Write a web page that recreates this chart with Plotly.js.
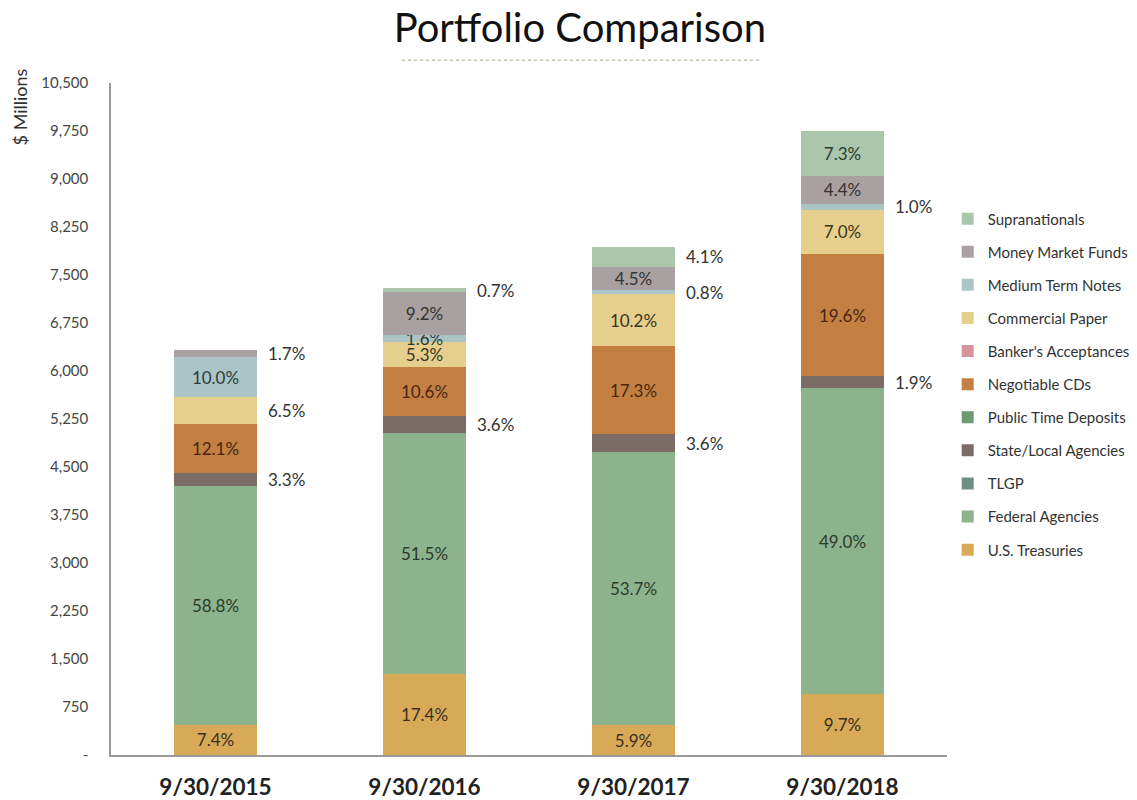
<!DOCTYPE html>
<html>
<head>
<meta charset="utf-8">
<script src="https://cdn.plot.ly/plotly-3.0.1.min.js"></script>
<style>
  html, body { margin: 0; padding: 0; background: #fff; }
  #plotArea { width: 1137px; height: 800px; }
</style>
</head>
<body>
<div id="plotArea"></div>
<script>
// dates on the x axis
var dates = ["9/30/2015", "9/30/2016", "9/30/2017", "9/30/2018"];

// $ millions per holding (bottom to top of the stack)
var usTreasuries    = [470, 1270, 468, 947];
var federalAgencies = [3730, 3758, 4262, 4785];
var tlgp            = [0, 0, 0, 0];
var stateLocal      = [209, 263, 286, 186];
var publicTime      = [0, 0, 0, 0];
var negotiableCDs   = [768, 773, 1373, 1914];
var bankersAccept   = [0, 0, 0, 0];
var commercialPaper = [412, 387, 810, 684];
var mediumTerm      = [634, 117, 63, 98];
var moneyMarket     = [108, 671, 357, 430];
var supranationals  = [0, 51, 325, 713];

// share labels printed on the chart ("" = none)
var pctUST   = ["7.4%", "17.4%", "5.9%", "9.7%"];
var pctFA    = ["58.8%", "51.5%", "53.7%", "49.0%"];
var pctSLA   = ["3.3%", "3.6%", "3.6%", "1.9%"];
var pctNCD   = ["12.1%", "10.6%", "17.3%", "19.6%"];
var pctCP    = ["6.5%", "5.3%", "10.2%", "7.0%"];
var pctMTN   = ["10.0%", "1.6%", "0.8%", "1.0%"];
var pctMMF   = ["1.7%", "9.2%", "4.5%", "4.4%"];
var pctSupra = ["", "0.7%", "4.1%", "7.3%"];
var blank    = ["", "", "", ""];

// which labels sit beside the bar instead of inside it
var outSLA   = [true, true, true, true];
var outCP    = [true, false, false, false];
var outMTN   = [false, false, true, true];
var outMMF   = [true, false, false, false];
var outSupra = [false, true, true, false];

// y axis ticks
var yTickVals = [0, 750, 1500, 2250, 3000, 3750, 4500, 5250, 6000, 6750, 7500, 8250, 9000, 9750, 10500];
var yTickText = ["-", "750", "1,500", "2,250", "3,000", "3,750", "4,500", "5,250", "6,000", "6,750", "7,500", "8,250", "9,000", "9,750", "10,500"];

var series = [
  {name: "U.S. Treasuries",       y: usTreasuries,    pct: pctUST,   out: null,     color: "#d8aa58", tc: "#3a3020"},
  {name: "Federal Agencies",      y: federalAgencies, pct: pctFA,    out: null,     color: "#8cb38b", tc: "#2f3a2f"},
  {name: "TLGP",                  y: tlgp,            pct: blank,    out: null,     color: "#6f8f82", tc: "#333"},
  {name: "State/Local Agencies",  y: stateLocal,      pct: pctSLA,   out: outSLA,   color: "#7b6d66", tc: "#333"},
  {name: "Public Time Deposits",  y: publicTime,      pct: blank,    out: null,     color: "#6e9a72", tc: "#333"},
  {name: "Negotiable CDs",        y: negotiableCDs,   pct: pctNCD,   out: null,     color: "#c48042", tc: "#4a2512"},
  {name: "Banker's Acceptances",  y: bankersAccept,   pct: blank,    out: null,     color: "#d6939a", tc: "#333"},
  {name: "Commercial Paper",      y: commercialPaper, pct: pctCP,    out: outCP,    color: "#e6cf8c", tc: "#3a3520"},
  {name: "Medium Term Notes",     y: mediumTerm,      pct: pctMTN,   out: outMTN,   color: "#abc5c6", tc: "#2f3a3a"},
  {name: "Money Market Funds",    y: moneyMarket,     pct: pctMMF,   out: outMMF,   color: "#a9a1a1", tc: "#333"},
  {name: "Supranationals",        y: supranationals,  pct: pctSupra, out: outSupra, color: "#abc7ab", tc: "#2f3a2f"}
];

var traces = [];
var annotations = [];
var base = [0, 0, 0, 0];

series.forEach(function (s, k) {
  var inside = s.pct.map(function (t, i) {
    return (s.out && s.out[i]) ? "" : t;
  });
  traces.push({
    type: "bar",
    name: s.name,
    x: dates,
    y: s.y,
    text: inside,
    textposition: "inside",
    insidetextanchor: "middle",
    textangle: 0,
    constraintext: "none",
    insidetextfont: {family: "Lato, sans-serif", size: 17, color: s.tc},
    marker: {color: s.color, line: {width: 0}},
    width: 0.4,
    legendgroup: "g" + k,
    legendrank: 100 - k,   // top of stack first in the legend
    hoverinfo: "name+y"
  });
  // labels to the right of the bar
  if (s.out) {
    s.out.forEach(function (o, i) {
      if (o && s.pct[i]) {
        annotations.push({
          x: dates[i], y: base[i] + s.y[i] / 2,
          xref: "x", yref: "y",
          text: s.pct[i],
          showarrow: false,
          xanchor: "left", yanchor: "middle",
          xshift: 50,
          font: {family: "Lato, sans-serif", size: 17, color: "#333"}
        });
      }
    });
  }
  base = base.map(function (b, i) { return b + s.y[i]; });
});

annotations.push({
  x: -0.109, y: 0.965,
  xref: "paper", yref: "paper",
  text: "$ Millions",
  textangle: -90,
  showarrow: false,
  xanchor: "center", yanchor: "middle",
  font: {family: "Lato, sans-serif", size: 18, color: "#333"}
});

var layout = {
  width: 1137,
  height: 800,
  margin: {l: 111, r: 190, t: 83, b: 45},
  paper_bgcolor: "#fff",
  plot_bgcolor: "#fff",
  barmode: "stack",
  font: {family: "Lato, sans-serif", color: "#333"},
  title: {
    text: "Portfolio Comparison",
    x: 0.51, xanchor: "center",
    y: 0.965, yanchor: "middle",
    font: {family: "Lato, sans-serif", size: 40, color: "#111"}
  },
  xaxis: {
    type: "category",
    range: [-0.5, 3.5],
    showline: true, linecolor: "#999", linewidth: 1.5,
    showgrid: false, zeroline: false,
    ticks: "outside", ticklen: 11, tickcolor: "rgba(0,0,0,0)",
    tickfont: {family: "Lato, sans-serif", size: 22.5, color: "#222", weight: "bold"}
  },
  yaxis: {
    range: [0, 10500],
    tickvals: yTickVals,
    ticktext: yTickText,
    showline: true, linecolor: "#999", linewidth: 1.5,
    showgrid: false, zeroline: false,
    ticks: "outside", ticklen: 18, tickcolor: "rgba(0,0,0,0)",
    tickfont: {family: "Lato, sans-serif", size: 15, color: "#444"}
  },
  legend: {
    xref: "container", yref: "container",
    x: 0.8335, y: 0.747,
    xanchor: "left", yanchor: "top",
    traceorder: "grouped",
    tracegroupgap: 10.6,
    itemwidth: 30,
    font: {family: "Lato, sans-serif", size: 15, color: "#333"}
  },
  shapes: [{
    type: "line", xref: "paper", yref: "paper",
    x0: 0.348, x1: 0.776, y0: 1.034, y1: 1.034,
    line: {color: "#bcc6b4", width: 1.5, dash: "dot"}
  }],
  annotations: annotations
};

Plotly.newPlot("plotArea", traces, layout, {displayModeBar: false});
</script>
</body>
</html>
